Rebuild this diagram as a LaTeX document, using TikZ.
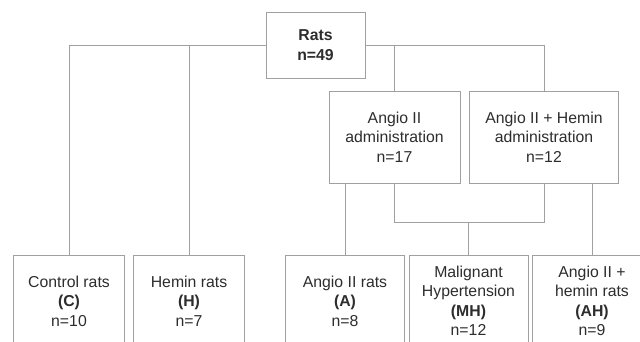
\documentclass[tikz,border=0pt]{standalone}
\usepackage{fontspec}
\setmainfont{Liberation Sans}
\definecolor{lnc}{RGB}{160,160,160}
\definecolor{txc}{RGB}{45,45,45}
\begin{document}
\begin{tikzpicture}[x=1pt,y=-1pt,
  box/.style={draw=lnc,line width=0.9pt,fill=white,rectangle,align=center,text=txc,
    inner sep=0pt,font=\fontsize{15.8}{19.5}\selectfont},
  conn/.style={draw=lnc,line width=0.9pt}]
\useasboundingbox (0,0) rectangle (640,341);
\node[box,minimum width=99pt,minimum height=66pt] (rats) at (315.5,45) {\textbf{Rats}\\\textbf{n=49}};
\node[box,minimum width=131pt,minimum height=92pt] (aadm) at (394.5,137) {Angio II\\administration\\n=17};
\node[box,minimum width=149pt,minimum height=92pt] (hadm) at (544,137) {Angio II + Hemin\\administration\\n=12};
\node[box,minimum width=111.5pt,minimum height=92pt] (c) at (69,301) {Control rats\\\textbf{(C)}\\n=10};
\node[box,minimum width=111pt,minimum height=92pt] (h) at (189,301) {Hemin rats\\\textbf{(H)}\\n=7};
\node[box,minimum width=119pt,minimum height=92pt] (a) at (345,301) {Angio II rats\\\textbf{(A)}\\n=8};
\node[box,minimum width=119pt,minimum height=92pt] (mh) at (468.5,301) {Malignant\\Hypertension\\\textbf{(MH)}\\n=12};
\node[box,minimum width=120pt,minimum height=92pt] (ah) at (592,301) {Angio II +\\hemin rats\\\textbf{(AH)}\\n=9};
\coordinate (fork) at (394.5,222);
\coordinate (forkr) at (544,222);
\coordinate (forkm) at (468.5,222);
\draw[conn] (rats.west) -| (c.north);
\draw[conn] (h.north) -- (h.north |- rats.west);
\draw[conn] (rats.east) -| (hadm.north);
\draw[conn] (aadm.north) -- (aadm.north |- rats.east);
\draw[conn] (a.north |- aadm.south) -- (a.north);
\draw[conn] (aadm.south) -- (fork) -- (forkr) -- (hadm.south);
\draw[conn] (forkm) -- (mh.north);
\draw[conn] (ah.north |- hadm.south) -- (ah.north);
\end{tikzpicture}
\end{document}
